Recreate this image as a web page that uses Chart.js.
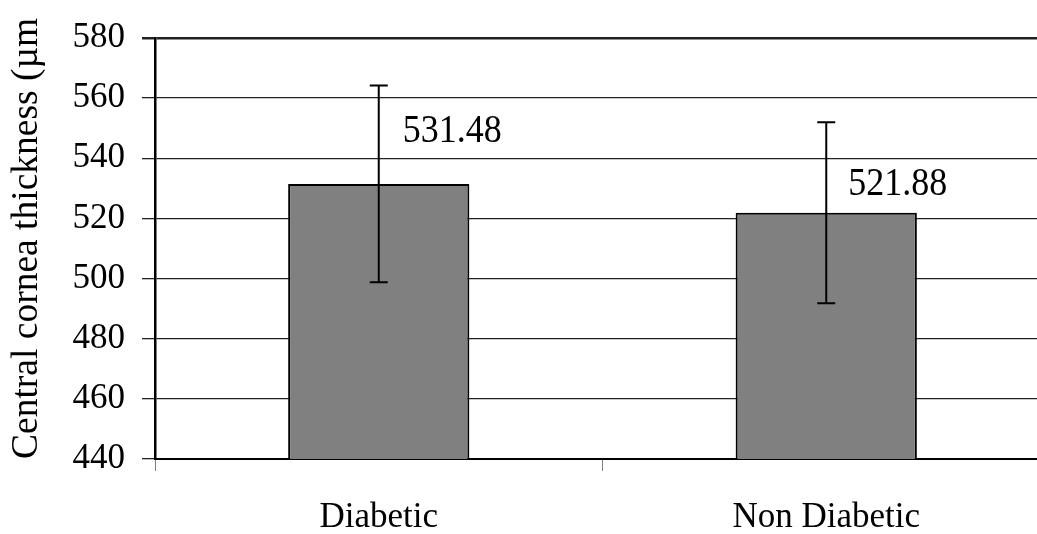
<!DOCTYPE html>
<html lang="en">
<head>
  <meta charset="UTF-8">
  <title>Central cornea thickness</title>
  <script src="https://cdn.jsdelivr.net/npm/chart.js"></script>
  <style>
    html, body {
      margin: 0;
      padding: 0;
      background: #fff;
      overflow: hidden;
    }
    #wrap {
      position: relative;
      width: 1052px;
      height: 534px;
    }
  </style>
</head>
<body>
  <div id="wrap"><canvas id="chart"></canvas></div>

  <script>
    const categories = ['Diabetic', 'Non Diabetic'];
    const means = [531.48, 521.88];
    const sds = [32.7, 30.1];
    const yTicks = [440, 460, 480, 500, 520, 540, 560, 580];
    const yTitle = 'Central cornea thickness (\u00b5m';

    const FONT = "'Liberation Serif', 'Times New Roman', serif";

    // error bars with caps, drawn from the y scale
    const errorBars = {
      id: 'errorBars',
      afterDatasetsDraw(chart) {
        const ctx = chart.ctx;
        const y = chart.scales.y;
        const meta = chart.getDatasetMeta(0);
        ctx.save();
        ctx.strokeStyle = '#000';
        ctx.lineWidth = 2;
        meta.data.forEach((bar, i) => {
          const top = y.getPixelForValue(means[i] + sds[i]);
          const bot = y.getPixelForValue(means[i] - sds[i]);
          ctx.beginPath();
          ctx.moveTo(bar.x, top);
          ctx.lineTo(bar.x, bot);
          ctx.moveTo(bar.x - 9, top);
          ctx.lineTo(bar.x + 9, top);
          ctx.moveTo(bar.x - 9, bot);
          ctx.lineTo(bar.x + 9, bot);
          ctx.stroke();
        });
        ctx.restore();
      }
    };

    // value labels to the upper right of each bar (text a bit taller, like the original)
    const valueLabels = {
      id: 'valueLabels',
      afterDatasetsDraw(chart, args, opts) {
        const ctx = chart.ctx;
        const meta = chart.getDatasetMeta(0);
        meta.data.forEach((bar, i) => {
          const off = opts.offsets[i];
          ctx.save();
          ctx.translate(bar.x + off.dx, bar.y + off.dy);
          ctx.scale(1, 1.1);
          ctx.fillStyle = '#000';
          ctx.font = '36px ' + FONT;
          ctx.textAlign = 'left';
          ctx.textBaseline = 'middle';
          ctx.fillText(means[i].toFixed(2), 0, 0);
          ctx.restore();
        });
      }
    };

    new Chart(document.getElementById('chart'), {
      type: 'bar',
      data: {
        labels: categories,
        datasets: [{
          data: means,
          backgroundColor: '#808080',
          borderColor: '#000',
          borderWidth: 2,
          borderSkipped: false,
          categoryPercentage: 1,
          barPercentage: 0.405
        }]
      },
      options: {
        responsive: true,
        maintainAspectRatio: false,
        animation: false,
        layout: { padding: { top: 38, right: 2, left: 0, bottom: 0 } },
        plugins: {
          legend: { display: false },
          tooltip: { enabled: false },
          valueLabels: { offsets: [{ dx: 24, dy: -52 }, { dx: 22, dy: -28 }] }
        },
        scales: {
          x: {
            offset: true,
            grid: {
              offset: true,
              drawOnChartArea: false,
              drawTicks: true,
              tickLength: 12,
              color: '#808080'
            },
            border: { display: true, color: '#000', width: 2 },
            ticks: {
              color: '#000',
              padding: 26,
              font: { family: FONT, size: 35 }
            },
            afterFit(scale) { scale.height = 75; }
          },
          y: {
            min: 440,
            max: 580,
            afterBuildTicks(scale) {
              scale.ticks = yTicks.map(v => ({ value: v }));
            },
            grid: {
              color: '#222',
              lineWidth: c => (c.tick && c.tick.value === 580 ? 2.5 : 1.3),
              tickLength: 13
            },
            border: { display: true, color: '#000', width: 2.5 },
            ticks: {
              color: '#000',
              padding: 17,
              font: { family: FONT, size: 35 }
            },
            title: {
              display: true,
              text: yTitle,
              align: 'start',
              color: '#000',
              padding: { top: 5, bottom: 0 },
              font: { family: FONT, size: 37.5 }
            },
            afterFit(scale) { scale.width = 155; }
          }
        }
      },
      plugins: [errorBars, valueLabels]
    });
  </script>
</body>
</html>
